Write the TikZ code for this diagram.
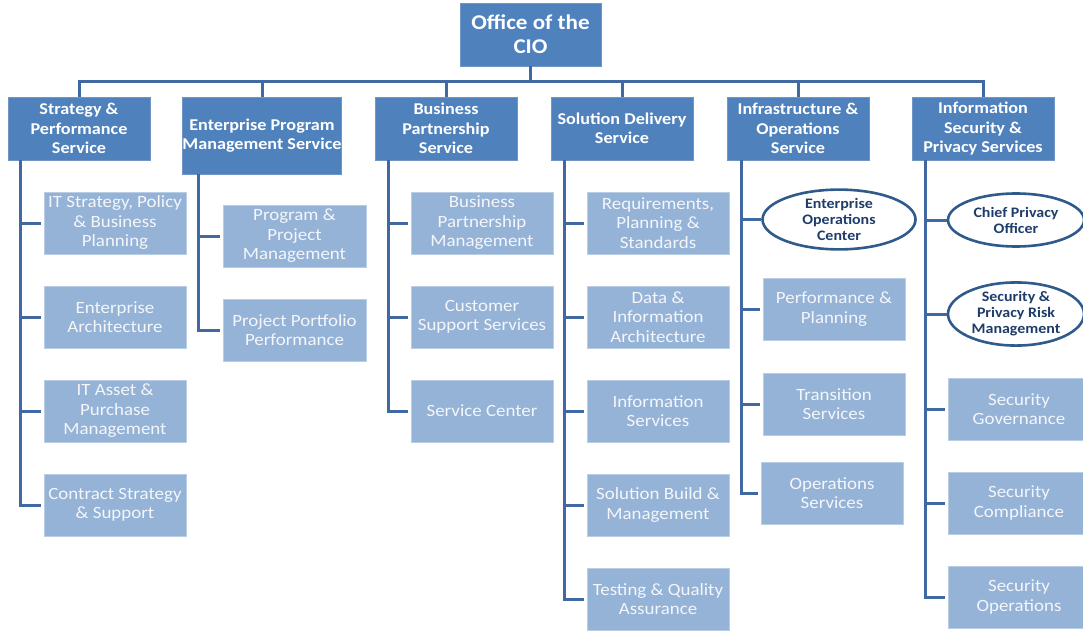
\documentclass[tikz,border=0pt]{standalone}
\usepackage{fontspec}
\setmainfont{Carlito}
\newfontfamily\widefont{Carlito}[FakeStretch=1.1]
\usetikzlibrary{shapes.geometric}
\definecolor{lvlfill}{HTML}{4F81BD}
\definecolor{lvlborder}{HTML}{7196C6}
\definecolor{kidfill}{HTML}{95B3D7}
\definecolor{kidborder}{HTML}{B9CDE5}
\definecolor{kidtext}{HTML}{F4F6FA}
\definecolor{conncol}{HTML}{4069A1}
\definecolor{ellborder}{HTML}{2F5A8C}
\definecolor{elltext}{HTML}{1F3D6B}
\tikzset{
  topbox/.style={draw=lvlborder, line width=0.8pt, fill=lvlfill, text=white, font=\widefont\fontsize{21}{24}\selectfont\bfseries, align=center, minimum width=141pt, minimum height=63pt, inner sep=0pt},
  lvlbox/.style={draw=lvlborder, line width=0.8pt, fill=lvlfill, text=white, font=\widefont\fontsize{16.5}{19.5}\selectfont\bfseries, align=center, minimum width=142pt, minimum height=63pt, inner sep=0pt},
  kidbox/.style={draw=kidborder, line width=0.8pt, fill=kidfill, text=kidtext, font=\widefont\fontsize{17.2}{19.5}\selectfont, align=center, minimum width=142pt, minimum height=62pt, inner sep=0pt},
  ellbox/.style={ellipse, draw=ellborder, line width=2.6pt, fill=white, text=elltext, font=\widefont\fontsize{14.5}{16}\selectfont\bfseries, align=center, inner sep=0pt},
  conn/.style={draw=conncol, line width=3pt},
  stub/.style={draw=conncol, line width=3pt, shorten >=3pt}
}
\begin{document}
\begin{tikzpicture}[x=1pt,y=-1pt]
\useasboundingbox (0,0) rectangle (1083,631);
\clip (0,0) rectangle (1083,631);
% top
\node[topbox] (cio) at (530.5,34.5) {Office of the\\CIO};
% level 2
\node[lvlbox] (l1) at (79,128.5) {Strategy \&\\Performance\\Service};
\node[lvlbox, minimum width=158pt, minimum height=77pt] (l2) at (262,135.5) {Enterprise Program\\Management Service};
\node[lvlbox] (l3) at (446,128.5) {Business\\Partnership\\Service};
\node[lvlbox] (l4) at (622,128.5) {Solution Delivery\\Service};
\node[lvlbox] (l5) at (798,128.5) {Infrastructure \&\\Operations\\Service};
\node[lvlbox] (l6) at (983,128.5) {Information\\Security \&\\Privacy Services};
% bus
\coordinate (bus) at (530.5,82);
\draw[conn] (cio.south) -- (bus);
\draw[conn] (l1.north) |- (bus) -| (l6.north);
\draw[conn] (l2.north) -- (l2.north |- bus);
\draw[conn] (l3.north) -- (l3.north |- bus);
\draw[conn] (l4.north) -- (l4.north |- bus);
\draw[conn] (l5.north) -- (l5.north |- bus);
% column 1
\node[kidbox] (a1) at (115,223) {IT Strategy, Policy\\\& Business\\Planning};
\node[kidbox] (a2) at (115,317) {Enterprise\\Architecture};
\node[kidbox] (a3) at (115,411) {IT Asset \&\\Purchase\\Management};
\node[kidbox] (a4) at (115,505) {Contract Strategy\\\& Support};
\coordinate (c1) at (20,0);
\draw[stub] (c1 |- l1.south) |- (a4.west);
\draw[stub] (c1 |- a1.west) -- (a1.west);
\draw[stub] (c1 |- a2.west) -- (a2.west);
\draw[stub] (c1 |- a3.west) -- (a3.west);
% column 2
\node[kidbox, minimum width=143pt] (b1) at (294.5,236) {Program \&\\Project\\Management};
\node[kidbox, minimum width=143pt] (b2) at (294.5,330) {Project Portfolio\\Performance};
\coordinate (c2) at (198,0);
\draw[stub] (c2 |- l2.south) |- (b2.west);
\draw[stub] (c2 |- b1.west) -- (b1.west);
% column 3
\node[kidbox] (d1) at (482,223) {Business\\Partnership\\Management};
\node[kidbox] (d2) at (482,317) {Customer\\Support Services};
\node[kidbox] (d3) at (482,411) {Service Center};
\coordinate (c3) at (388,0);
\draw[stub] (c3 |- l3.south) |- (d3.west);
\draw[stub] (c3 |- d1.west) -- (d1.west);
\draw[stub] (c3 |- d2.west) -- (d2.west);
% column 4
\node[kidbox] (e1) at (658,223) {Requirements,\\Planning \& \\Standards};
\node[kidbox] (e2) at (658,317) {Data \&\\Information\\Architecture};
\node[kidbox] (e3) at (658,411) {Information\\Services};
\node[kidbox] (e4) at (658,505) {Solution Build \&\\Management};
\node[kidbox] (e5) at (658,599) {Testing \& Quality\\Assurance};
\coordinate (c4) at (564,0);
\draw[stub] (c4 |- l4.south) |- (e5.west);
\draw[stub] (c4 |- e1.west) -- (e1.west);
\draw[stub] (c4 |- e2.west) -- (e2.west);
\draw[stub] (c4 |- e3.west) -- (e3.west);
\draw[stub] (c4 |- e4.west) -- (e4.west);
% column 5
\node[ellbox, minimum width=153pt, minimum height=52pt] (f1) at (839,219.5) {Enterprise\\Operations\\Center};
\node[kidbox] (f2) at (834,309) {Performance \&\\Planning};
\node[kidbox] (f3) at (834,404) {Transition\\Services};
\node[kidbox] (f4) at (832,493) {Operations\\Services};
\coordinate (c5) at (741,0);
\draw[stub] (c5 |- l5.south) |- (f4.west);
\draw[conn] (c5 |- f1.west) -- (f1.west);
\draw[stub] (c5 |- f2.west) -- (f2.west);
\draw[stub] (c5 |- f3.west) -- (f3.west);
% column 6
\node[ellbox, minimum width=136pt, minimum height=53pt] (g1) at (1016,220) {Chief Privacy\\Officer};
\node[ellbox, minimum width=136pt, minimum height=61pt] (g2) at (1016,314) {Security \&\\Privacy Risk\\Management};
\node[kidbox] (g3) at (1019,409) {Security\\Governance};
\node[kidbox] (g4) at (1019,503) {Security\\Compliance};
\node[kidbox] (g5) at (1019,597) {Security\\Operations};
\coordinate (c6) at (925,0);
\draw[stub] (c6 |- l6.south) |- (g5.west);
\draw[conn] (c6 |- g1.west) -- (g1.west);
\draw[conn] (c6 |- g2.west) -- (g2.west);
\draw[stub] (c6 |- g3.west) -- (g3.west);
\draw[stub] (c6 |- g4.west) -- (g4.west);
\end{tikzpicture}
\end{document}
